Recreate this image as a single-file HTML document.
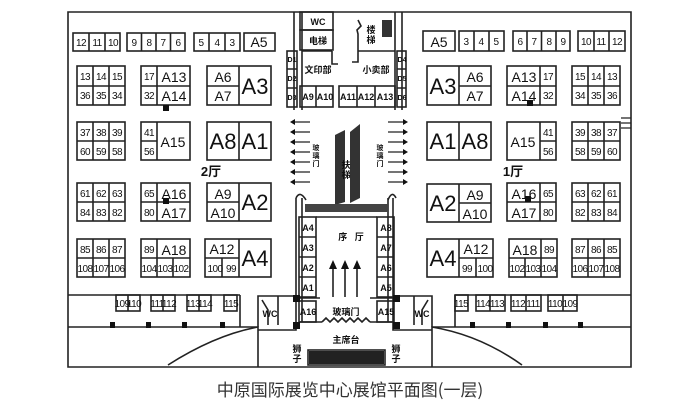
<!DOCTYPE html>
<html><head><meta charset="utf-8"><style>
html,body{margin:0;padding:0;background:#fff;width:696px;height:407px;overflow:hidden}
svg{display:block}
text{font-family:"Liberation Sans","Noto Sans CJK SC",sans-serif;fill:#111;text-anchor:middle}
.n{font-size:10px;letter-spacing:-0.6px}
.m{font-size:14px}
.b{font-size:22px}
.c{font-size:9px;font-weight:bold;font-family:"Noto Sans CJK SC","WenQuanYi Zen Hei",sans-serif}
.s{font-size:7px;font-weight:bold}
</style></head><body>
<svg width="696" height="407" viewBox="0 0 696 407" xmlns="http://www.w3.org/2000/svg">
<g fill="none" stroke="#222" stroke-width="1.6">
<path d="M68 12 H631 V367 H68 Z"/>
<rect x="73" y="33" width="47" height="18"/><path d="M89 33V51M105 33V51"/>
<rect x="127" y="33" width="58" height="18"/><path d="M141.5 33V51M156 33V51M170.5 33V51"/>
<rect x="194" y="33" width="46" height="18"/><path d="M209 33V51M225 33V51"/>
<rect x="244" y="33" width="31" height="18"/>
<rect x="423" y="31" width="32" height="20"/>
<rect x="459" y="31" width="45" height="20"/><path d="M474 31V51M489 31V51"/>
<rect x="513" y="31" width="57" height="20"/><path d="M527 31V51M541.5 31V51M556 31V51"/>
<rect x="578" y="31" width="47" height="20"/><path d="M594 31V51M609 31V51"/>

<g>
<rect x="77" y="66" width="48" height="39"/><path d="M77 86H125M93 66V105M109 66V105"/>
<rect x="77" y="122" width="48" height="38"/><path d="M77 141H125M93 122V160M109 122V160"/>
<rect x="77" y="183" width="48" height="38"/><path d="M77 202H125M93 183V221M109 183V221"/>
<rect x="77" y="239" width="48" height="38"/><path d="M77 258H125M93 239V277M109 239V277"/>
</g>
<g>
<rect x="572" y="66" width="48" height="39"/><path d="M572 86H620M588 66V105M604 66V105"/>
<rect x="572" y="122" width="48" height="38"/><path d="M572 141H620M588 122V160M604 122V160"/>
<rect x="572" y="183" width="48" height="38"/><path d="M572 202H620M588 183V221M604 183V221"/>
<rect x="572" y="239" width="48" height="38"/><path d="M572 258H620M588 239V277M604 239V277"/>
</g>
<rect x="141" y="66" width="49" height="39"/><path d="M141 86H190M157 66V105"/>
<rect x="141" y="122" width="49" height="38"/><path d="M141 141H157M157 122V160"/>
<rect x="141" y="183" width="49" height="38"/><path d="M141 202H190M157 183V221"/>
<rect x="141" y="239" width="49" height="38"/><path d="M141 258H190M157 239V277M173 258V277"/>
<rect x="507" y="66" width="49" height="39"/><path d="M507 86H556M540 66V105"/>
<rect x="507" y="122" width="49" height="38"/><path d="M540 141H556M540 122V160"/>
<rect x="507" y="183" width="49" height="38"/><path d="M507 202H556M540 183V221"/>
<rect x="509" y="239" width="48" height="38"/><path d="M509 258H557M541 239V277M525 258V277"/>
<rect x="207" y="66" width="64" height="39"/><path d="M207 86H239M239 66V105"/>
<rect x="207" y="122" width="64" height="38"/><path d="M239 122V160"/>
<rect x="207" y="183" width="64" height="38"/><path d="M207 202H239M239 183V221"/>
<rect x="205" y="239" width="66" height="38"/><path d="M205 258H239M239 239V277M222 258V277"/>
<rect x="427" y="66" width="64" height="39"/><path d="M459 86H491M459 66V105"/>
<rect x="427" y="122" width="64" height="38"/><path d="M459 122V160"/>
<rect x="427" y="184" width="64" height="38"/><path d="M459 203H491M459 184V222"/>
<rect x="427" y="239" width="66" height="38"/><path d="M459 258H493M459 239V277M476 258V277"/>

<path d="M294 12V110M302 12V110M395 12V110M402 12V110"/>
<rect x="300" y="12" width="33" height="18"/><rect x="300" y="30" width="33" height="20"/>
<path d="M302 51H332M332 51V64H338M358 51H395M358 51V62H352M358 20L361 26L357 30L358 34V51"/>
<rect x="287" y="51" width="10" height="56"/><path d="M287 69H297M287 88H297"/>
<rect x="397" y="51" width="9" height="56"/><path d="M397 69H406M397 88H406"/>
<rect x="300" y="86" width="33" height="21"/><path d="M316 86V107"/>
<rect x="339" y="86" width="56" height="21"/><path d="M357 86V107M375 86V107"/>

<path d="M68 295H240M68 327H258V367M240 295V327"/>
<rect x="116" y="295" width="24" height="16"/><path d="M128 295V311"/>
<rect x="151" y="295" width="24" height="16"/><path d="M163 295V311"/>
<rect x="187" y="295" width="24" height="16"/><path d="M199 295V311"/>
<rect x="224" y="295" width="13" height="16"/>
<path d="M258 327 Q215 335 168 365"/>
<path d="M258 327V296H298M278 296V325M262 300L268 310V325"/>
<path d="M631 295H455M631 327H432V367M455 295V327"/>
<rect x="455" y="295" width="13" height="16"/>
<rect x="476" y="295" width="29" height="16"/><path d="M490 295V311"/>
<rect x="511" y="295" width="30" height="16"/><path d="M526 295V311"/>
<rect x="548" y="295" width="29" height="16"/><path d="M563 295V311"/>
<path d="M432 327 Q480 335 522 365"/>
<path d="M432 327V296H393M414 296V325M428 300L422 310V325"/>

<path d="M296 198V330H258M393 198V330H432M302 198V322M388 198V322"/>
<path d="M296 198Q300 190 306 200M388 200Q392 190 396 198"/>
<rect x="299" y="217" width="17" height="80"/><path d="M299 237H316M299 257H316M299 277H316"/>
<rect x="299" y="301" width="17" height="21"/>
<rect x="377" y="217" width="17" height="80"/><path d="M377 237H394M377 257H394M377 277H394"/>
<rect x="377" y="301" width="17" height="21"/>
<path d="M316 217H377M296 298H320M370 298H396"/>
<path d="M322 322 l4 -4 l4 4 l4 -4 l4 4 l4 -4 l4 4 l4 -4 l4 4 l4 -4 l4 4 l4 -4 l4 4"/>
<path d="M300 322H322M370 322H394"/>
<path d="M333 297V266M345 297V266M357 297V266"/>
<rect x="308" y="350" width="77" height="15"/>
</g>
<g stroke="#222" stroke-width="1.2">
<path d="M292 122H310M292 132H310M292 142H310M292 152H310M292 162H310M292 172H310M292 182H310"/>
<path d="M388 122H406M388 132H406M388 142H406M388 152H406M388 162H406M388 172H406M388 182H406"/>
<path d="M621 118H631M621 123H631M621 128H631"/>
</g>
<g fill="#111">
<path d="M290 122l5-3v6zM290 132l5-3v6zM290 142l5-3v6zM290 152l5-3v6zM290 162l5-3v6zM290 172l5-3v6zM290 182l5-3v6z"/>
<path d="M408 122l-5-3v6zM408 132l-5-3v6zM408 142l-5-3v6zM408 152l-5-3v6zM408 162l-5-3v6zM408 172l-5-3v6zM408 182l-5-3v6z"/>
<path d="M333 260l-4 9h8zM345 260l-4 9h8zM357 260l-4 9h8z"/>
<path d="M335 135l10-5v72l-10 3z" fill="#333"/>
<path d="M350 132l10-8v74l-10 5z" fill="#333"/>
<rect x="305" y="204" width="83" height="8" fill="#444"/>
<rect x="309" y="351" width="75" height="13" fill="#222"/>
<rect x="382" y="20" width="10" height="17" fill="#333"/>
<rect x="163" y="105" width="6" height="6"/><rect x="163" y="198" width="6" height="6"/>
<rect x="527" y="100" width="6" height="6"/><rect x="525" y="196" width="6" height="6"/>
<rect x="293" y="295" width="7" height="7"/><rect x="393" y="295" width="7" height="7"/>
<rect x="293" y="322" width="7" height="7"/><rect x="393" y="322" width="7" height="7"/>
<rect x="110" y="322" width="5" height="6"/><rect x="146" y="322" width="5" height="6"/><rect x="182" y="322" width="5" height="6"/><rect x="220" y="322" width="5" height="6"/>
<rect x="470" y="322" width="5" height="6"/><rect x="506" y="322" width="5" height="6"/><rect x="543" y="322" width="5" height="6"/><rect x="578" y="322" width="5" height="6"/>
</g>

<g class="n">
<text x="81" y="46">12</text><text x="97" y="46">11</text><text x="113" y="46">10</text>
<text x="134" y="46">9</text><text x="149" y="46">8</text><text x="163" y="46">7</text><text x="178" y="46">6</text>
<text x="201" y="46">5</text><text x="217" y="46">4</text><text x="232" y="46">3</text>
<text x="466" y="45">3</text><text x="481" y="45">4</text><text x="496" y="45">5</text>
<text x="520" y="45">6</text><text x="534" y="45">7</text><text x="549" y="45">8</text><text x="563" y="45">9</text>
<text x="586" y="45">10</text><text x="601" y="45">11</text><text x="617" y="45">12</text>

<text x="85" y="80">13</text><text x="101" y="80">14</text><text x="117" y="80">15</text>
<text x="85" y="99">36</text><text x="101" y="99">35</text><text x="117" y="99">34</text>
<text x="85" y="136">37</text><text x="101" y="136">38</text><text x="117" y="136">39</text>
<text x="85" y="155">60</text><text x="101" y="155">59</text><text x="117" y="155">58</text>
<text x="85" y="197">61</text><text x="101" y="197">62</text><text x="117" y="197">63</text>
<text x="85" y="216">84</text><text x="101" y="216">83</text><text x="117" y="216">82</text>
<text x="85" y="253">85</text><text x="101" y="253">86</text><text x="117" y="253">87</text>
<text x="85" y="272">108</text><text x="101" y="272">107</text><text x="117" y="272">106</text>

<text x="580" y="80">15</text><text x="596" y="80">14</text><text x="612" y="80">13</text>
<text x="580" y="99">34</text><text x="596" y="99">35</text><text x="612" y="99">36</text>
<text x="580" y="136">39</text><text x="596" y="136">38</text><text x="612" y="136">37</text>
<text x="580" y="155">58</text><text x="596" y="155">59</text><text x="612" y="155">60</text>
<text x="580" y="197">63</text><text x="596" y="197">62</text><text x="612" y="197">61</text>
<text x="580" y="216">82</text><text x="596" y="216">83</text><text x="612" y="216">84</text>
<text x="580" y="253">87</text><text x="596" y="253">86</text><text x="612" y="253">85</text>
<text x="580" y="272">106</text><text x="596" y="272">107</text><text x="612" y="272">108</text>

<text x="149" y="80">17</text><text x="149" y="99">32</text>
<text x="149" y="136">41</text><text x="149" y="155">56</text>
<text x="149" y="197">65</text><text x="149" y="216">80</text>
<text x="149" y="253">89</text>
<text x="149" y="272">104</text><text x="165" y="272">103</text><text x="181" y="272">102</text>
<text x="215" y="272">100</text><text x="231" y="272">99</text>

<text x="548" y="80">17</text><text x="548" y="99">32</text>
<text x="548" y="136">41</text><text x="548" y="155">56</text>
<text x="548" y="197">65</text><text x="548" y="216">80</text>
<text x="549" y="253">89</text>
<text x="517" y="272">102</text><text x="533" y="272">103</text><text x="549" y="272">104</text>
<text x="467" y="272">99</text><text x="485" y="272">100</text>

<text x="122" y="307">109</text><text x="134" y="307">110</text>
<text x="157" y="307">111</text><text x="169" y="307">112</text>
<text x="193" y="307">113</text><text x="205" y="307">114</text>
<text x="231" y="307">115</text>
<text x="461" y="307">115</text>
<text x="483" y="307">114</text><text x="497" y="307">113</text>
<text x="518" y="307">112</text><text x="533" y="307">111</text>
<text x="555" y="307">110</text><text x="570" y="307">109</text>
</g>
<g class="m">
<text x="259" y="47">A5</text><text x="439" y="47">A5</text>
<text x="174" y="82">A13</text><text x="174" y="101">A14</text>
<text x="173" y="147">A15</text>
<text x="174" y="199">A16</text><text x="174" y="218">A17</text>
<text x="174" y="255">A18</text>
<text x="223" y="82">A6</text><text x="223" y="101">A7</text>
<text x="223" y="199">A9</text><text x="223" y="218">A10</text>
<text x="222" y="254">A12</text>
<text x="524" y="82">A13</text><text x="524" y="101">A14</text>
<text x="523" y="147">A15</text>
<text x="524" y="199">A16</text><text x="524" y="218">A17</text>
<text x="525" y="255">A18</text>
<text x="475" y="82">A6</text><text x="475" y="101">A7</text>
<text x="475" y="200">A9</text><text x="475" y="219">A10</text>
<text x="476" y="254">A12</text>
</g>
<g class="b">
<text x="255" y="94">A3</text><text x="223" y="149">A8</text><text x="255" y="149">A1</text>
<text x="255" y="210">A2</text><text x="255" y="266">A4</text>
<text x="443" y="94">A3</text><text x="443" y="149">A1</text><text x="475" y="149">A8</text>
<text x="443" y="211">A2</text><text x="443" y="266">A4</text>
</g>
<g class="c">
<text x="211" y="176" style="font-size:13px">2厅</text><text x="513" y="176" style="font-size:13px">1厅</text>
<text x="318" y="25">WC</text><text x="318" y="44">电梯</text>
<text x="318" y="73">文印部</text><text x="376" y="73">小卖部</text>
<text x="371" y="33">楼</text><text x="371" y="43">梯</text>
<text x="351" y="240">序 &#160; 厅</text>
<text x="346" y="315">玻璃门</text>
<text x="346" y="343">主席台</text>
<text x="297" y="352">狮</text><text x="297" y="362">子</text>
<text x="396" y="352">狮</text><text x="396" y="362">子</text>
<text x="270" y="317">WC</text><text x="422" y="317">WC</text>
<text x="346" y="168">扶</text><text x="346" y="178">梯</text>
</g>
<g class="s">
<text x="292" y="62">D1</text><text x="292" y="81">D2</text><text x="292" y="100">D3</text>
<text x="402" y="62">D4</text><text x="402" y="81">D5</text><text x="402" y="100">D6</text>
<text x="316" y="150">玻</text><text x="316" y="158">璃</text><text x="316" y="166">门</text>
<text x="380" y="150">玻</text><text x="380" y="158">璃</text><text x="380" y="166">门</text>
</g>
<g style="font-size:9px;font-weight:bold">
<text x="308" y="100">A9</text><text x="325" y="100">A10</text>
<text x="348" y="100">A11</text><text x="366" y="100">A12</text><text x="385" y="100">A13</text>
<text x="308" y="231">A4</text><text x="308" y="251">A3</text><text x="308" y="271">A2</text><text x="308" y="291">A1</text><text x="308" y="315">A16</text>
<text x="386" y="231">A8</text><text x="386" y="251">A7</text><text x="386" y="271">A6</text><text x="386" y="291">A5</text><text x="386" y="315">A15</text>
</g>
<text x="350" y="396" style="font-size:17px;fill:#333;font-family:'Noto Sans CJK SC',sans-serif">中原国际展览中心展馆平面图(一层)</text>
</svg>
</body></html>
